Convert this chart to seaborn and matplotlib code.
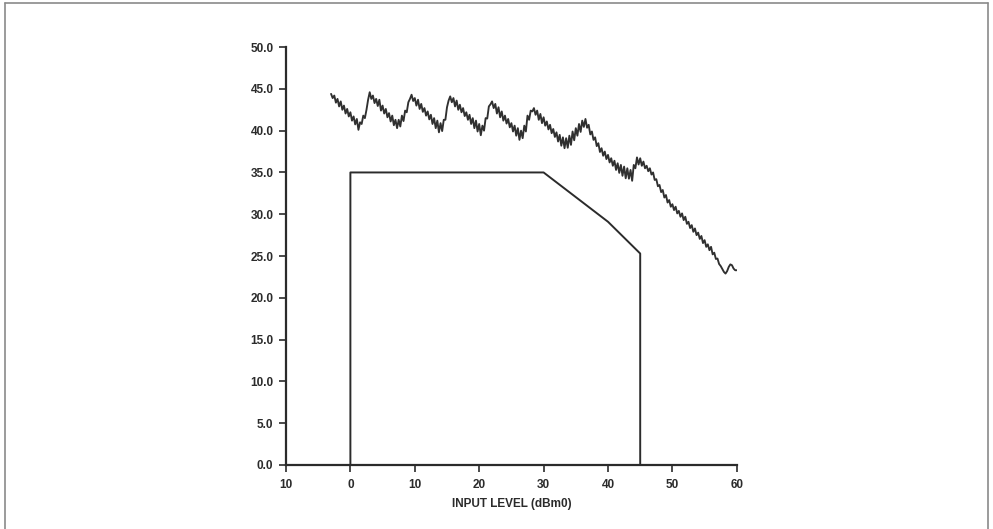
import numpy as np
import pandas as pd
import seaborn as sns
import matplotlib.pyplot as plt
from matplotlib.lines import Line2D

level_start = -3.0
level_step = 0.25
snr_db = [
    44.4, 43.9, 44.2, 43.35,   # -3
    43.8, 42.9, 43.5, 42.5,    # -2
    43.0, 42.05, 42.6, 41.7,   # -1
    42.2, 41.2, 41.7, 40.75,   # 0
    41.4, 40.1, 41.0, 40.8,    # 1
    41.8, 41.5, 42.5, 43.7,    # 2
    44.6, 43.8, 44.2, 43.3,    # 3
    43.8, 42.95, 43.7, 42.4,   # 4
    43.0, 42.05, 42.6, 41.6,   # 5
    42.1, 41.1, 41.8, 40.65,   # 6
    41.3, 40.3, 41.3, 40.5,    # 7
    41.8, 41.15, 42.4, 42.2,   # 8
    43.4, 43.8, 44.3, 43.55,   # 9
    43.9, 43.0, 43.7, 42.6,    # 10
    43.2, 42.25, 42.7, 41.8,   # 11
    42.3, 41.35, 41.9, 40.8,   # 12
    41.5, 40.3, 41.2, 39.8,    # 13
    40.9, 39.95, 41.3, 41.3,   # 14
    42.8, 43.6, 44.1, 43.4,    # 15
    43.9, 42.9, 43.6, 42.5,    # 16
    43.1, 42.2, 42.7, 41.75,   # 17
    42.2, 41.3, 41.9, 40.8,    # 18
    41.5, 40.3, 41.2, 39.9,    # 19
    40.8, 39.45, 40.6, 40.0,   # 20
    41.5, 41.45, 42.9, 43.15,  # 21
    43.5, 42.7, 43.2, 42.05,   # 22
    42.8, 41.6, 42.3, 41.2,    # 23
    41.8, 40.85, 41.4, 40.4,   # 24
    40.9, 39.9, 40.6, 39.4,    # 25
    40.3, 38.9, 40.0, 39.1,    # 26
    40.6, 39.9, 41.8, 41.3,    # 27
    42.4, 42.3, 42.7, 41.9,    # 28
    42.4, 41.3, 42.0, 40.9,    # 29
    41.6, 40.6, 41.1, 40.15,   # 30
    40.7, 39.7, 40.2, 39.25,   # 31
    39.8, 38.7, 39.5, 38.2,    # 32
    39.2, 37.9, 39.1, 37.95,   # 33
    39.4, 38.3, 39.9, 38.85,   # 34
    40.3, 39.4, 40.8, 39.85,   # 35
    41.2, 40.45, 41.4, 40.35,  # 36
    40.7, 39.55, 39.9, 38.9,   # 37
    39.2, 38.15, 38.5, 37.45,  # 38
    37.9, 37.0, 37.5, 36.6,    # 39
    37.1, 36.2, 36.7, 35.8,    # 40
    36.4, 35.3, 36.1, 34.95,   # 41
    35.9, 34.6, 35.7, 34.3,    # 42
    35.5, 34.25, 35.3, 34.0,   # 43
    35.9, 35.5, 36.8, 35.95,   # 44
    36.7, 35.8, 36.3, 35.5,    # 45
    35.8, 35.15, 35.5, 34.75,  # 46
    35.0, 34.1, 34.2, 33.35,   # 47
    33.5, 32.65, 32.9, 32.0,   # 48
    32.3, 31.4, 31.7, 30.9,    # 49
    31.2, 30.5, 30.9, 30.1,    # 50
    30.4, 29.7, 30.1, 29.3,    # 51
    29.7, 28.85, 29.1, 28.35,  # 52
    28.7, 27.9, 28.3, 27.5,    # 53
    27.8, 27.05, 27.4, 26.55,  # 54
    26.9, 26.1, 26.4, 25.7,    # 55
    26.1, 25.2, 25.4, 24.65,   # 56
    24.7, 24.05, 23.8, 23.45,  # 57
    23.1, 22.9, 23.2, 23.7,    # 58
    24.0, 23.9, 23.5, 23.3,    # 59
    23.3,                      # 60
]

# limit mask
mask_level = [0, 0, 30, 40, 45, 45]
mask_db = [0, 35, 35, 29.1, 25.3, 0]

x_ticks = [-10, 0, 10, 20, 30, 40, 50, 60]
x_ticklabels = ["10", "0", "10", "20", "30", "40", "50", "60"]
y_ticks = [0, 5, 10, 15, 20, 25, 30, 35, 40, 45, 50]
y_ticklabels = ["%.1f" % v for v in y_ticks]

signal = pd.DataFrame({
    "level": level_start + level_step * np.arange(len(snr_db)),
    "snr": snr_db,
})
mask = pd.DataFrame({"level": mask_level, "snr": mask_db})

sns.set_style("ticks")
plt.rcParams["font.family"] = ["Liberation Sans", "DejaVu Sans"]
plt.rcParams["font.weight"] = "bold"

ink = "#2b2b2b"
fig = plt.figure(figsize=(9.93, 5.29), dpi=100)
ax = fig.add_axes([0.288, 0.121, 0.454, 0.790])

sns.lineplot(data=signal, x="level", y="snr", ax=ax, color="#303030",
             linewidth=1.35, sort=False, estimator=None)
sns.lineplot(data=mask, x="level", y="snr", ax=ax, color=ink,
             linewidth=1.4, sort=False, estimator=None)

ax.set_xlim(-10, 60)
ax.set_ylim(0, 50)
ax.set_xticks(x_ticks)
ax.set_xticklabels(x_ticklabels)
ax.set_yticks(y_ticks)
ax.set_yticklabels(y_ticklabels)
ax.set_xlabel("INPUT LEVEL (dBm0)", fontsize=8.5, fontweight="bold", color=ink, labelpad=5)
ax.set_ylabel("")

sns.despine(ax=ax)
for side in ["left", "bottom"]:
    ax.spines[side].set_linewidth(1.6)
    ax.spines[side].set_color(ink)
ax.tick_params(axis="both", direction="out", length=5, width=1.2,
               color=ink, labelcolor=ink, labelsize=8.5)
ax.tick_params(axis="x", pad=5)
ax.tick_params(axis="y", pad=4)

# scan border around the page
for xs, ys in [([0.005, 0.005], [0.0, 0.994]),
               ([0.005, 0.995], [0.994, 0.994]),
               ([0.995, 0.995], [0.0, 0.994])]:
    fig.add_artist(Line2D(xs, ys, transform=fig.transFigure, color="#8a8a8a", linewidth=1.2))

fig.savefig("out.png", dpi=100)
